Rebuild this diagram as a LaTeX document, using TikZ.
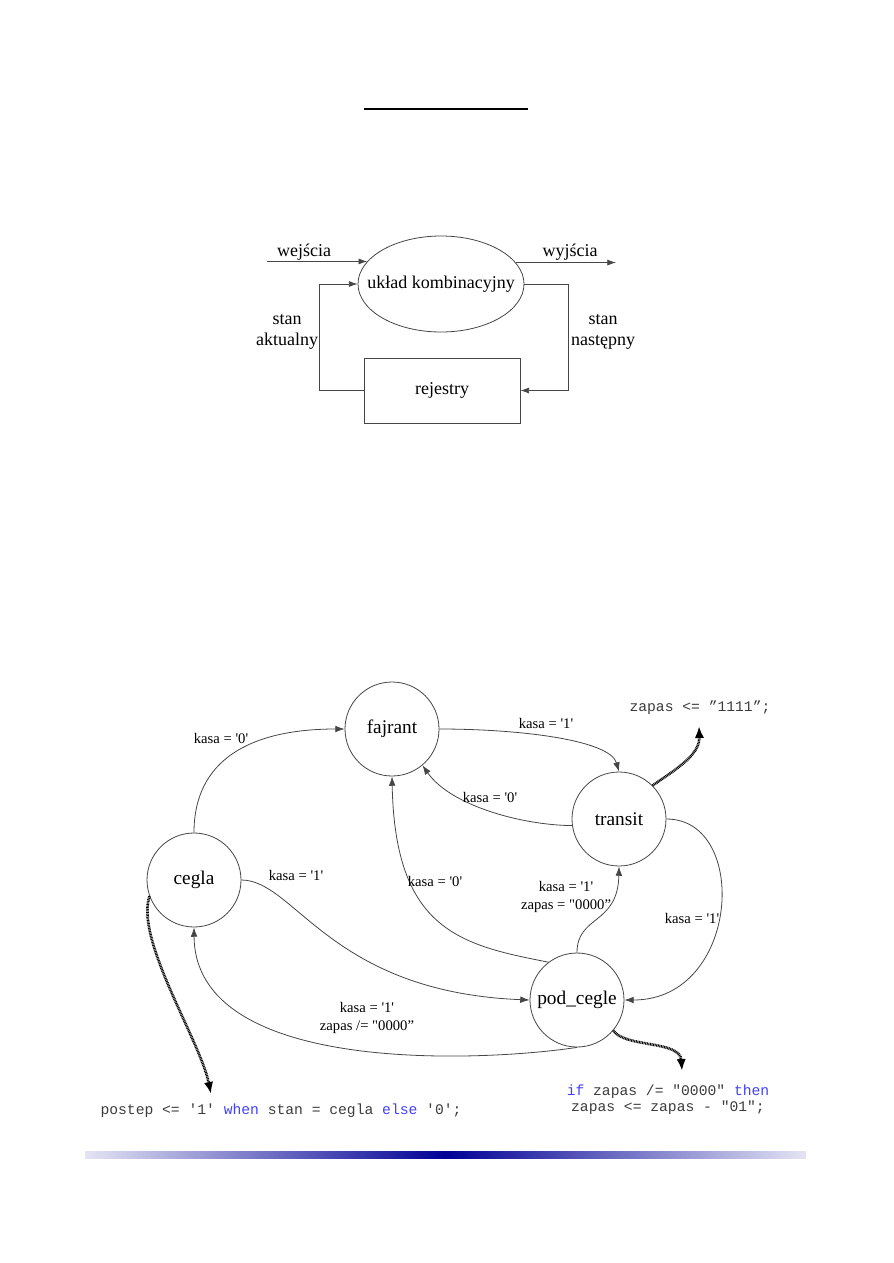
\documentclass[tikz,border=0pt]{standalone}
\usepackage{fontspec}
\newfontfamily\lab{Liberation Serif}
\newfontfamily\code{Liberation Mono}
\usetikzlibrary{arrows.meta,shapes.geometric}
\definecolor{ln}{RGB}{70,70,70}
\definecolor{codegray}{RGB}{60,60,60}
\definecolor{kw}{RGB}{64,64,255}
\definecolor{barend}{RGB}{228,228,244}
\definecolor{barmid}{RGB}{0,0,150}
\begin{document}
\begin{tikzpicture}[x=0.75pt,y=-0.75pt,
  wire/.style={draw=ln, line width=0.6pt},
  tip/.style={-{Latex[length=6.5pt,width=4.5pt]}},
  stip/.style={-{Latex[length=7pt,width=5pt]}},
  state/.style={circle, draw=ln, line width=0.6pt, minimum size=70.5pt, inner sep=0pt, font=\lab\fontsize{14.5}{16}\selectfont},
  lbl/.style={font=\lab\fontsize{11}{13.5}\selectfont, inner sep=0pt, align=center},
  blk/.style={font=\lab\fontsize{13.5}{15.5}\selectfont, inner sep=0pt, align=center},
  act/.style={line width=2pt, dash pattern=on 0.7pt off 0.5pt, -{Latex[length=9pt,width=7pt]}},
  codetxt/.style={font=\code\fontsize{11}{12}\selectfont, text=codegray, inner sep=0pt, align=center}]
\useasboundingbox (0,0) rectangle (893,1263);

% title rule
\draw[line width=0.8pt] (364,109) -- (528,109);

% ---- block diagram ----
\node[ellipse, draw=ln, line width=0.6pt, minimum width=124.5pt, minimum height=72pt, inner sep=0pt] (uk) at (441,284) {};
\node[blk] (ukt) at (uk.center) {układ kombinacyjny};
\node[rectangle, draw=ln, line width=0.6pt, minimum width=117pt, minimum height=48.75pt, blk] (rej) at (442,390.5) {rejestry};
\coordinate (inS) at (267,0);
\coordinate (outE) at (616,0);
\draw[wire,tip] (uk.163.4 -| inS) -- (uk.163.4);
\draw[wire,tip] (uk.16.6) -- (uk.16.6 -| outE);
\draw[wire,tip] (rej.west) -- ++(-44,0) |- (uk.west);
\draw[wire,tip] (uk.east) -- ++(44,0) |- (rej.east);
\node[blk] (tin) at (304,252) {wejścia};
\node[blk] (tout) at (570,252) {wyjścia};
\node[blk] (tsa) at (287,332) {stan\\aktualny};
\node[blk] (tsn) at (603,332) {stan\\następny};

% ---- state diagram ----
\node[state] (fajrant) at (392,729) {fajrant};
\node[state] (cegla) at (194,880) {cegla};
\node[state] (transit) at (619,819) {transit};
\node[state] (pod) at (577,1000) {pod\_cegle};

\draw[wire,stip] (cegla.north) .. controls (194,760) and (250,729) .. (fajrant.west);
\draw[wire,stip] (fajrant.east) .. controls (520,729) and (610,740) .. (transit.north);
\draw[wire,stip] (transit.188) .. controls (520,825) and (450,805) .. (fajrant.-50);
\draw[wire,stip] (cegla.east) .. controls (295,880) and (330,992) .. (pod.west);
\draw[wire,stip] (pod.127) .. controls (460,945) and (395,930) .. (fajrant.south);
\draw[wire,stip] (pod.north) .. controls (577,915) and (618,925) .. (transit.south);
\draw[wire,stip] (transit.east) .. controls (750,819) and (740,1000) .. (pod.east);
\draw[wire,stip] (pod.south) .. controls (480,1062) and (195,1075) .. (cegla.south);

\node[lbl] (l1) at (221,738) {kasa = '0'};
\node[lbl] (l2) at (546,723) {kasa = '1'};
\node[lbl] (l3) at (490,797) {kasa = '0'};
\node[lbl] (l4) at (296,875) {kasa = '1'};
\node[lbl] (l5) at (435,881) {kasa = '0'};
\node[lbl] (l6) at (566,897) {kasa = '1'\\zapas = "0000”};
\node[lbl] (l7) at (692,918) {kasa = '1'};
\node[lbl] (l8) at (367,1018) {kasa = '1'\\zapas /= "0000”};

% ---- actions ----
\node[codetxt] (z1) at (700,708) {zapas <= ”1111”;};
\node[codetxt] (p1) at (281,1111) {postep <= '1' \textcolor{kw}{when} stan = cegla \textcolor{kw}{else} '0';};
\node[codetxt] (if1) at (668,1100) {\textcolor{kw}{if} zapas /= "0000" \textcolor{kw}{then}\\zapas <= zapas - "01";};
\coordinate (ztip) at (699,726);
\coordinate (ptip) at (211,1094);
\coordinate (itip) at (682,1071);
\draw[act] (transit.45) .. controls (675,770) and (700,755) .. (ztip);
\draw[act] (cegla.200) .. controls (135,940) and (200,1040) .. (ptip);
\draw[act] (pod.-40) .. controls (625,1048) and (680,1040) .. (itip);

% bottom gradient bar
\shade[left color=barend, right color=barend, middle color=barmid] (85,1151) rectangle (806,1158);
\end{tikzpicture}
\end{document}
